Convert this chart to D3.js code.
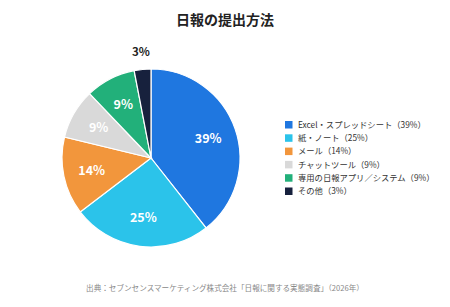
<!DOCTYPE html>
<html><head><meta charset="utf-8">
<script src="https://cdn.jsdelivr.net/npm/d3@7"></script>
<style>body{margin:0;background:#fff;font-family:"Noto Sans CJK JP","Noto Sans",sans-serif;}</style>
</head><body>
<svg id="c" width="450" height="307"></svg>
<script>
const categories = ["Excel・スプレッドシート","紙・ノート","メール","チャットツール","専用の日報アプリ／システム","その他"];
const values = [39,25,14,9,9,3];
const colors = ["#1F77E0","#2BC3EA","#F2963C","#D9D9D9","#22B07A","#17213D"];
const title = "日報の提出方法";
const source = "出典：セブンセンスマーケティング株式会社「日報に関する実態調査」（2026年）";

const svg = d3.select("#c");
const font = '"Noto Sans CJK JP","Noto Sans",sans-serif';
svg.append("rect").attr("width",450).attr("height",307).attr("fill","#fff");
svg.append("text").attr("x",225).attr("y",25).attr("text-anchor","middle")
  .attr("font-family",font).attr("font-weight","bold").attr("font-size",14).attr("fill","#222").text(title);

const cx=151, cy=158, r=89;
const pie = d3.pie().sort(null).value(d=>d)(values);
const arc = d3.arc().innerRadius(0).outerRadius(r);
const g = svg.append("g").attr("transform",`translate(${cx},${cy})`);
g.selectAll("path").data(pie).join("path").attr("d",arc)
  .attr("fill",(d,i)=>colors[i]).attr("stroke","#fff").attr("stroke-width",1.2);
const inArc = d3.arc().innerRadius(r*0.68).outerRadius(r*0.68);
const outArc = d3.arc().innerRadius(r*1.2).outerRadius(r*1.2);
g.selectAll("text").data(pie).join("text")
  .attr("transform",d=>{const p=(d.data<5?outArc:inArc).centroid(d);return `translate(${p})`;})
  .attr("text-anchor","middle").attr("dy","0.35em")
  .attr("font-family",font).attr("font-weight","bold").attr("font-size",d=>d.data<5?11.5:12.5)
  .attr("fill",d=>d.data<5?"#222":"#fff").text(d=>d.data+"%");

const lg = svg.append("g").attr("transform","translate(285,124.5)");
const row = lg.selectAll("g").data(categories).join("g").attr("transform",(d,i)=>`translate(0,${i*13.3})`);
row.append("rect").attr("x",0).attr("y",-3.5).attr("width",7.5).attr("height",7.5).attr("fill",(d,i)=>colors[i]);
row.append("text").attr("x",13).attr("y",0.3).attr("dy","0.35em").attr("font-family",font)
  .attr("font-size",8.3).attr("fill","#333").text((d,i)=>`${d}（${values[i]}%）`);

svg.append("text").attr("x",225).attr("y",291).attr("text-anchor","middle").attr("font-family",font)
  .attr("font-size",7.6).attr("fill","#888").text(source);
</script>
</body></html>
